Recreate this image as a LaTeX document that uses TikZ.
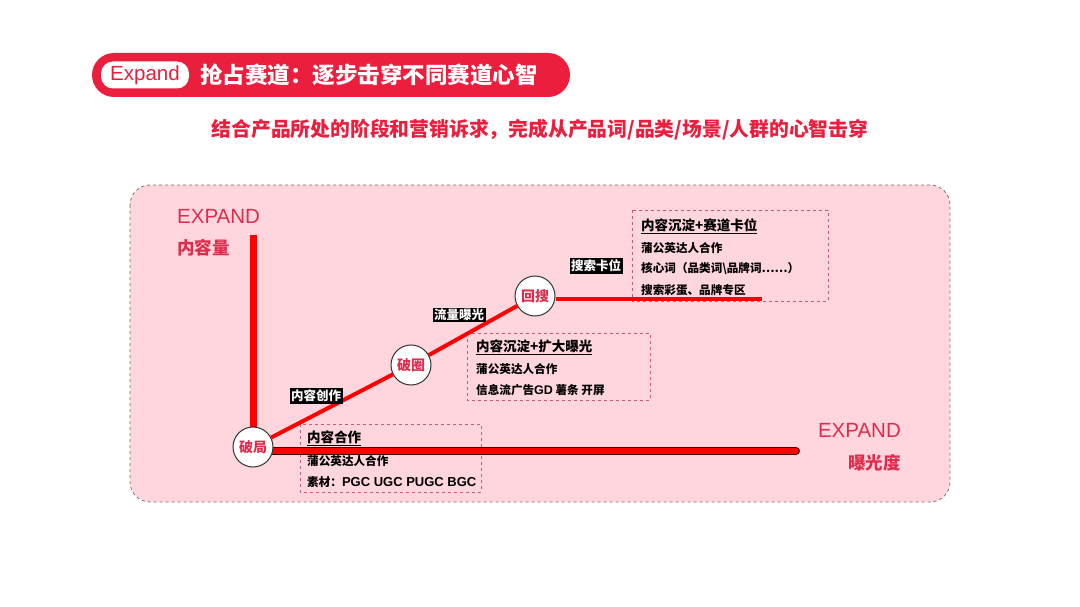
\documentclass[tikz,border=0pt]{standalone}
\usepackage{fontspec}
\setmainfont{Noto Sans CJK SC}
\newfontfamily\latinsans{Liberation Sans}
\usetikzlibrary{positioning}
\definecolor{titlered}{RGB}{236,30,62}
\definecolor{panelpink}{RGB}{255,214,221}
\definecolor{axisred}{RGB}{255,0,0}
\definecolor{labelred}{RGB}{224,44,76}
\definecolor{boxline}{RGB}{200,90,120}

\begin{document}
\begin{tikzpicture}[x=1pt,y=-1pt]
  \tikzset{
    stage/.style={
      draw=black!80,
      line width=1pt,
      circle,
      minimum size=40pt,
      inner sep=0pt,
      fill=white,
      text=labelred,
      font=\fontsize{14}{14}\selectfont\bfseries
    },
    tag/.style={
      fill=black,
      text=white,
      inner sep=1.5pt,
      font=\fontsize{12.5}{13}\selectfont\bfseries
    },
    infobox/.style={
      draw=boxline,
      dashed,
      line width=0.6pt
    },
    info/.style={
      anchor=west,
      inner sep=0pt,
      font=\fontsize{11.6}{12}\selectfont\bfseries
    },
    infohead/.style={
      anchor=west,
      inner sep=0pt,
      font=\fontsize{13.5}{14}\selectfont\bfseries
    },
    axislabel/.style={
      text=labelred,
      inner sep=0pt,
      font=\fontsize{20.5}{21}\selectfont\latinsans
    },
    axisname/.style={
      text=labelred,
      inner sep=0pt,
      font=\fontsize{17.5}{18}\selectfont\bfseries
    }
  }
  \useasboundingbox (0,0) rectangle (1080,607);

  % Title bar
  \fill[titlered, rounded corners=22pt] (92,53) rectangle (570,97);
  \node[fill=white, rounded corners=12pt, minimum width=88pt, minimum height=27pt,
    text=titlered, font=\fontsize{20.5}{21}\selectfont\latinsans] (expand) at (145,75) {Expand};
  \node[anchor=west, text=white, inner sep=0pt,
    font=\fontsize{22.5}{23}\selectfont\bfseries] (title) at (200,75)
    {抢占赛道：逐步击穿不同赛道心智};

  % Subtitle
  \node[text=titlered, inner sep=0pt, font=\fontsize{19.8}{20}\selectfont\bfseries] (subtitle) at (540,130)
    {结合产品所处的阶段和营销诉求，完成从产品词/品类/场景/人群的心智击穿};

  % Panel
  \fill[panelpink, rounded corners=20pt] (130,185) rectangle (950,502);
  \draw[black!55, dashed, line width=0.8pt, rounded corners=20pt] (130,185) rectangle (950,502);

  % Axes labels
  \node[axislabel, anchor=west] (ylab) at (177,216) {EXPAND};
  \node[axisname, anchor=west] (yname) at (177,248) {内容量};
  \node[axislabel, anchor=east] (xlab) at (901,430) {EXPAND};
  \node[axisname, anchor=east] (xname) at (901,463) {曝光度};

  % Info boxes
  \draw[infobox] (300,424) rectangle (481,492);
  \draw[infobox] (467,333) rectangle (650,400);
  \draw[infobox] (632,210) rectangle (828,301);

  % Axes
  \draw[axisred, line width=7pt] (253,235) -- (253,440);
  \draw[black!70!red, line width=8pt, line cap=round] (262,451) -- (796,451);
  \draw[axisred, line width=5.5pt, line cap=round] (262,451) -- (796,451);

  % Stages
  \node[stage] (polu) at (253,447) {破局};
  \node[stage] (poquan) at (411,365) {破圈};
  \node[stage] (huisou) at (535,296) {回搜};
  \coordinate (lineend) at (762,299);

  \draw[axisred, line width=4pt] (polu) -- (poquan);
  \draw[axisred, line width=4pt] (poquan) -- (huisou);
  \draw[axisred, line width=4pt] (huisou.east |- lineend) -- (lineend);

  % Step tags
  \node[tag] (tag1) at (316,396) {内容创作};
  \node[tag] (tag2) at (459,315) {流量曝光};
  \node[tag] (tag3) at (596,266) {搜索卡位};

  % Box texts
  \node[infohead] (h1) at (307,438) {\underline{内容合作}};
  \node[info] (a1) at (307,461) {蒲公英达人合作};
  \node[info] (b1) at (307,482) {素材：{\fontsize{13}{13}\selectfont\latinsans PGC UGC PUGC BGC}};

  \node[infohead] (h2) at (476,347) {\underline{内容沉淀+扩大曝光}};
  \node[info] (a2) at (476,369) {蒲公英达人合作};
  \node[info] (b2) at (476,390) {信息流广告{\fontsize{12.5}{13}\selectfont\latinsans GD} 薯条 开屏};

  \node[infohead] (h3) at (641,226) {\underline{内容沉淀+赛道卡位}};
  \node[info] (a3) at (641,248) {蒲公英达人合作};
  \node[info] (b3) at (641,269) {核心词（品类词\textbackslash 品牌词……）};
  \node[info] (c3) at (641,290) {搜索彩蛋、品牌专区};
\end{tikzpicture}
\end{document}
